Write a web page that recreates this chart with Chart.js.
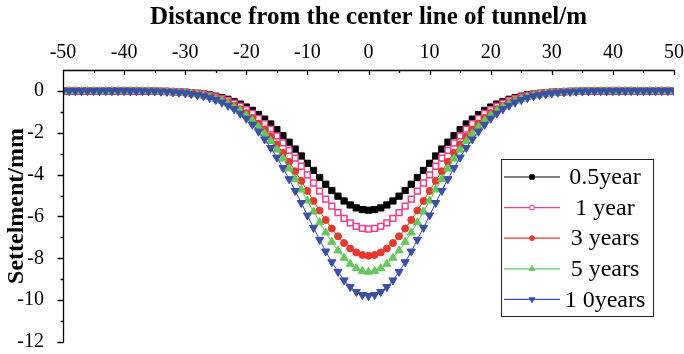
<!DOCTYPE html>
<html>
<head>
<meta charset="utf-8">
<title>Surface settlement</title>
<script src="https://cdn.jsdelivr.net/npm/chart.js@4.4.0/dist/chart.umd.min.js"></script>
<style>
  html, body { margin: 0; padding: 0; background: #fff; }
  #chart_box { width: 684px; height: 354px; }
</style>
</head>
<body>
<div id="chart_box"><canvas id="settle_chart" width="684" height="354"></canvas></div>
<script>
// distance from the tunnel centre line (m), one point per metre
const distance = [
  -50,-49,-48,-47,-46,-45,-44,-43,-42,-41,
  -40,-39,-38,-37,-36,-35,-34,-33,-32,-31,
  -30,-29,-28,-27,-26,-25,-24,-23,-22,-21,
  -20,-19,-18,-17,-16,-15,-14,-13,-12,-11,
  -10,-9,-8,-7,-6,-5,-4,-3,-2,-1,
  0,
  1,2,3,4,5,6,7,8,9,10,
  11,12,13,14,15,16,17,18,19,20,
  21,22,23,24,25,26,27,28,29,30,
  31,32,33,34,35,36,37,38,39,40,
  41,42,43,44,45,46,47,48,49,50
];

const xTicks = [-50, -40, -30, -20, -10, 0, 10, 20, 30, 40, 50];
const yTicks = [0, -2, -4, -6, -8, -10, -12];

const seriesNames = ['0.5year', '1 year', '3 years', '5 years', '1 0years'];

// settlement (mm)
const settle_05y = [
  0,0,0,0,0,0,0,0,0,0,
  0,0,0,-0.01,-0.01,-0.01,-0.02,-0.02,-0.03,-0.05,
  -0.06,-0.09,-0.11,-0.15,-0.19,-0.25,-0.32,-0.40,-0.51,-0.63,
  -0.77,-0.93,-1.13,-1.35,-1.58,-1.85,-2.14,-2.45,-2.78,-3.11,
  -3.46,-3.80,-4.14,-4.46,-4.76,-5.03,-5.26,-5.45,-5.59,-5.67,
  -5.70,
  -5.67,-5.59,-5.45,-5.26,-5.03,-4.76,-4.46,-4.14,-3.80,-3.46,
  -3.11,-2.78,-2.45,-2.14,-1.85,-1.58,-1.35,-1.13,-0.93,-0.77,
  -0.63,-0.51,-0.40,-0.32,-0.25,-0.19,-0.15,-0.11,-0.09,-0.06,
  -0.05,-0.03,-0.02,-0.02,-0.01,-0.01,-0.01,0,0,0,
  0,0,0,0,0,0,0,0,0,0
];
const settle_1y = [
  0,0,0,0,0,0,0,0,0,0,
  0,0,0,-0.01,-0.01,-0.01,-0.02,-0.03,-0.04,-0.05,
  -0.07,-0.10,-0.13,-0.17,-0.22,-0.29,-0.37,-0.47,-0.59,-0.73,
  -0.89,-1.08,-1.31,-1.56,-1.83,-2.15,-2.48,-2.84,-3.21,-3.60,
  -4.01,-4.40,-4.79,-5.17,-5.51,-5.82,-6.09,-6.31,-6.47,-6.57,
  -6.60,
  -6.57,-6.47,-6.31,-6.09,-5.82,-5.51,-5.17,-4.79,-4.40,-4.01,
  -3.60,-3.21,-2.84,-2.48,-2.15,-1.83,-1.56,-1.31,-1.08,-0.89,
  -0.73,-0.59,-0.47,-0.37,-0.29,-0.22,-0.17,-0.13,-0.10,-0.07,
  -0.05,-0.04,-0.03,-0.02,-0.01,-0.01,-0.01,0,0,0,
  0,0,0,0,0,0,0,0,0,0
];
const settle_3y = [
  0,0,0,0,0,0,0,0,0,0,
  0,0,-0.01,-0.01,-0.01,-0.02,-0.02,-0.03,-0.05,-0.06,
  -0.09,-0.12,-0.16,-0.20,-0.27,-0.35,-0.44,-0.56,-0.70,-0.87,
  -1.06,-1.29,-1.56,-1.86,-2.19,-2.56,-2.96,-3.39,-3.84,-4.30,
  -4.78,-5.26,-5.72,-6.17,-6.58,-6.95,-7.27,-7.53,-7.72,-7.84,
  -7.88,
  -7.84,-7.72,-7.53,-7.27,-6.95,-6.58,-6.17,-5.72,-5.26,-4.78,
  -4.30,-3.84,-3.39,-2.96,-2.56,-2.19,-1.86,-1.56,-1.29,-1.06,
  -0.87,-0.70,-0.56,-0.44,-0.35,-0.27,-0.20,-0.16,-0.12,-0.09,
  -0.06,-0.05,-0.03,-0.02,-0.02,-0.01,-0.01,-0.01,0,0,
  0,0,0,0,0,0,0,0,0,0
];
const settle_5y = [
  0,0,0,0,0,0,0,0,0,0,
  0,0,-0.01,-0.01,-0.01,-0.02,-0.03,-0.03,-0.05,-0.07,
  -0.10,-0.13,-0.17,-0.22,-0.29,-0.38,-0.48,-0.61,-0.77,-0.95,
  -1.17,-1.42,-1.71,-2.04,-2.40,-2.81,-3.24,-3.72,-4.21,-4.72,
  -5.25,-5.77,-6.28,-6.77,-7.22,-7.63,-7.98,-8.27,-8.48,-8.61,
  -8.65,
  -8.61,-8.48,-8.27,-7.98,-7.63,-7.22,-6.77,-6.28,-5.77,-5.25,
  -4.72,-4.21,-3.72,-3.24,-2.81,-2.40,-2.04,-1.71,-1.42,-1.17,
  -0.95,-0.77,-0.61,-0.48,-0.38,-0.29,-0.22,-0.17,-0.13,-0.10,
  -0.07,-0.05,-0.03,-0.03,-0.02,-0.01,-0.01,-0.01,0,0,
  0,0,0,0,0,0,0,0,0,0
];
const settle_10y = [
  0,0,0,0,0,0,0,0,0,0,
  0,-0.01,-0.01,-0.01,-0.02,-0.02,-0.03,-0.04,-0.06,-0.08,
  -0.11,-0.15,-0.20,-0.25,-0.33,-0.43,-0.55,-0.70,-0.87,-1.08,
  -1.32,-1.61,-1.94,-2.31,-2.72,-3.18,-3.68,-4.21,-4.77,-5.35,
  -5.95,-6.54,-7.11,-7.67,-8.18,-8.64,-9.05,-9.37,-9.60,-9.75,
  -9.80,
  -9.75,-9.60,-9.37,-9.05,-8.64,-8.18,-7.67,-7.11,-6.54,-5.95,
  -5.35,-4.77,-4.21,-3.68,-3.18,-2.72,-2.31,-1.94,-1.61,-1.32,
  -1.08,-0.87,-0.70,-0.55,-0.43,-0.33,-0.25,-0.20,-0.15,-0.11,
  -0.08,-0.06,-0.04,-0.03,-0.02,-0.02,-0.01,-0.01,-0.01,0,
  0,0,0,0,0,0,0,0,0,0
];

const serif = '"Liberation Serif", "Times New Roman", serif';

function pts(values)
{
  return distance.map(function (d, i) { return { x: d, y: values[i] }; });
}

// axis lines with inward ticks on top, outward ticks on the left
const axisFrame = {
  id: 'axis_frame',
  afterDraw: function (chart) {
    const ctx = chart.ctx;
    const a = chart.chartArea;
    const xs = chart.scales.x;
    const ys = chart.scales.y;
    ctx.save();
    ctx.strokeStyle = '#000';
    ctx.lineWidth = 1.3;
    ctx.beginPath();
    ctx.moveTo(a.left, a.top + 0.5);
    ctx.lineTo(a.right + 0.5, a.top + 0.5);
    ctx.moveTo(a.left + 0.5, a.top);
    ctx.lineTo(a.left + 0.5, a.bottom + 0.5);
    for (var v = -50; v <= 50; v += 5) {
      var px = Math.round(xs.getPixelForValue(v)) + 0.5;
      var len = (v % 10 === 0) ? 5 : 3;
      ctx.moveTo(px, a.top);
      ctx.lineTo(px, a.top + len);
    }
    for (var w = -12; w <= 0; w += 1) {
      var py = Math.round(ys.getPixelForValue(w)) + 0.5;
      var ln = (w % 2 === 0) ? 6 : 3;
      ctx.moveTo(a.left + 0.5, py);
      ctx.lineTo(a.left + 0.5 - ln, py);
    }
    ctx.stroke();
    ctx.restore();
  }
};

// boxed legend sitting inside the plot, lower right
const legendBox = {
  id: 'legend_box',
  afterDraw: function (chart) {
    const ctx = chart.ctx;
    ctx.save();
    ctx.fillStyle = '#fff';
    ctx.fillRect(501, 159, 152, 157);
    ctx.strokeStyle = '#222';
    ctx.lineWidth = 1;
    ctx.strokeRect(501.5, 159.5, 152, 157);
    chart.data.datasets.forEach(function (ds, i) {
      var y = 177 + i * 30.6;
      ctx.strokeStyle = ds.borderColor;
      ctx.lineWidth = 1.2;
      ctx.beginPath();
      ctx.moveTo(504, y);
      ctx.lineTo(560, y);
      ctx.stroke();
      ctx.fillStyle = ds.pointBackgroundColor;
      ctx.strokeStyle = ds.pointBorderColor;
      ctx.lineWidth = 1;
      Chart.helpers.drawPoint(ctx, {
        pointStyle: ds.pointStyle,
        radius: ds.pointRadius * 0.7,
        rotation: ds.pointRotation || 0,
        borderWidth: 1
      }, 532, y);
      ctx.fillStyle = '#000';
      ctx.font = '24px ' + serif;
      ctx.textAlign = 'center';
      ctx.textBaseline = 'middle';
      ctx.fillText(ds.label, 605, y + 1);
    });
    ctx.restore();
  }
};

Chart.defaults.font.family = serif;
Chart.defaults.color = '#000';

var ctx = document.getElementById('settle_chart').getContext('2d');
var settleChart = new Chart(ctx, {
  type: 'line',
  data: {
    datasets: [{
      label: seriesNames[0],
      data: pts(settle_05y),
      borderColor: '#000000',
      borderWidth: 1,
      pointStyle: 'rect',
      pointRadius: 4.4,
      pointBackgroundColor: '#000000',
      pointBorderColor: '#000000',
      pointBorderWidth: 1,
      order: 5
    }, {
      label: seriesNames[1],
      data: pts(settle_1y),
      borderColor: '#ec3d8f',
      borderWidth: 1,
      pointStyle: 'rect',
      pointRadius: 4.1,
      pointBackgroundColor: '#ffffff',
      pointBorderColor: '#ec3d8f',
      pointBorderWidth: 1.5,
      order: 4
    }, {
      label: seriesNames[2],
      data: pts(settle_3y),
      borderColor: '#e8382c',
      borderWidth: 1,
      pointStyle: 'circle',
      pointRadius: 3.5,
      pointBackgroundColor: '#e8382c',
      pointBorderColor: '#e8382c',
      pointBorderWidth: 1,
      order: 3
    }, {
      label: seriesNames[3],
      data: pts(settle_5y),
      borderColor: '#62c95a',
      borderWidth: 1,
      pointStyle: 'triangle',
      pointRadius: 4.7,
      pointBackgroundColor: '#62c95a',
      pointBorderColor: '#62c95a',
      pointBorderWidth: 1,
      order: 2
    }, {
      label: seriesNames[4],
      data: pts(settle_10y),
      borderColor: '#3a4fa8',
      borderWidth: 1,
      pointStyle: 'triangle',
      pointRotation: 180,
      pointRadius: 4.7,
      pointBackgroundColor: '#3a4fa8',
      pointBorderColor: '#3a4fa8',
      pointBorderWidth: 1,
      order: 1
    }]
  },
  options: {
    responsive: false,
    animation: false,
    devicePixelRatio: 1,
    events: [],
    layout: { padding: { left: 0, top: 0, right: 10, bottom: 12 } },
    plugins: {
      legend: { display: false },
      tooltip: { enabled: false }
    },
    scales: {
      x: {
        type: 'linear',
        position: 'top',
        min: -50,
        max: 50,
        grid: { display: false },
        border: { display: false },
        afterBuildTicks: function (scale) {
          scale.ticks = xTicks.map(function (v) { return { value: v }; });
        },
        afterFit: function (scale) {
          scale.height = 70;
          scale.paddingLeft = 0;
          scale.paddingRight = 0;
        },
        ticks: { padding: -3, font: { size: 20 }, color: '#000', maxRotation: 0 },
        title: {
          display: true,
          text: 'Distance from the center line of tunnel/m',
          font: { size: 25, weight: 'bold' },
          color: '#000',
          padding: { top: 3, bottom: 0 }
        }
      },
      y: {
        type: 'linear',
        min: -12,
        max: 1,
        grid: { display: false },
        border: { display: false },
        afterBuildTicks: function (scale) {
          scale.ticks = yTicks.map(function (v) { return { value: v }; });
        },
        afterFit: function (scale) {
          scale.width = 63;
          scale.paddingTop = 0;
          scale.paddingBottom = 0;
        },
        ticks: { padding: 11, font: { size: 20 }, color: '#000' },
        title: {
          display: true,
          text: 'Settelment/mm',
          font: { size: 24, weight: 'bold' },
          color: '#000',
          padding: { top: 2, bottom: 0 }
        }
      }
    }
  },
  plugins: [axisFrame, legendBox]
});
</script>
</body>
</html>
